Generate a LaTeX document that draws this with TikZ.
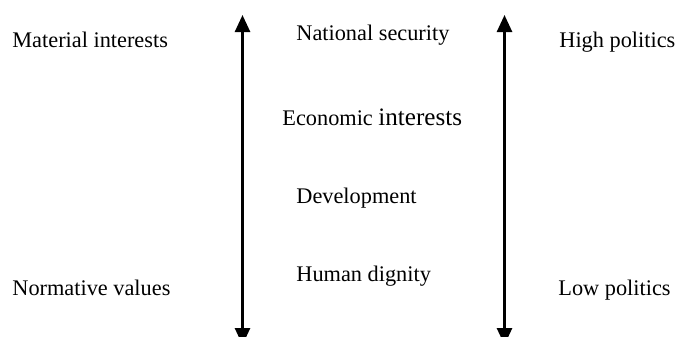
\documentclass[tikz,border=0pt]{standalone}
\usepackage{fontspec}
\setmainfont{Liberation Serif}
\usetikzlibrary{arrows.meta}

\tikzset{
  lbl/.style={anchor=base west,inner sep=0pt,font=\fontsize{11.2}{13}\selectfont},
  axis/.style={line width=1.3bp,{Triangle[width=7.5bp,length=8.5bp]}-{Triangle[width=7.5bp,length=8.5bp]}}
}

\begin{document}
\begin{tikzpicture}[x=0.5bp,y=-0.5bp]
  \fill[white] (0,0) rectangle (679,336);
  \clip (0,0) rectangle (679,336);
  % left column
  \node[lbl] (mat) at (12,47) {Material interests};
  \node[lbl] (norm) at (12,295) {Normative values};
  % middle column
  \node[lbl] (nat) at (296,40) {National security};
  \node[lbl] (eco) at (282,125) {Economic {\fontsize{12.6}{14}\selectfont interests}};
  \node[lbl] (dev) at (296,203) {Development};
  \node[lbl] (hum) at (296,281) {Human dignity};
  % right column
  \node[lbl] (high) at (559,47) {High politics};
  \node[lbl] (low) at (558,295) {Low politics};
  % arrows
  \coordinate (a1) at (242.5,15);
  \coordinate (b1) at (242.5,345);
  \coordinate (a2) at (504.5,15);
  \coordinate (b2) at (504.5,345);
  \draw[axis] (a1)--(b1);
  \draw[axis] (a2)--(b2);
\end{tikzpicture}
\end{document}
